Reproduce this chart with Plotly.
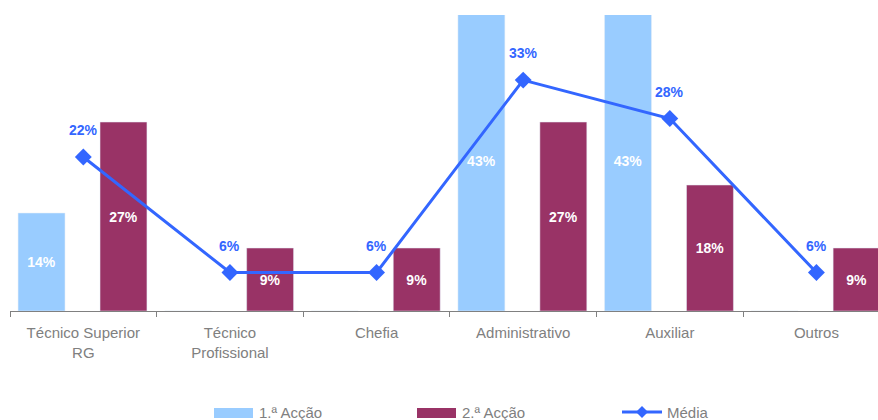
import plotly.graph_objects as go

categories = ["Técnico Superior<br>RG", "Técnico<br>Profissional", "Chefia",
              "Administrativo", "Auxiliar", "Outros"]
acao1 = [14, 0, 0, 43, 43, 0]
acao2 = [27, 9, 9, 27, 18, 9]
media = [22, 5.5, 5.5, 33, 27.5, 5.5]
media_labels = ["22%", "6%", "6%", "33%", "28%", "6%"]
series_names = ["1.ª Acção", "2.ª Acção", "Média"]

C1 = "#99CCFF"
C2 = "#993366"
CL = "#3366FF"
GREY = "#808080"
FONT = "Arial, Liberation Sans, sans-serif"

def lbl(vals):
    return [f"{v}%" if v else "" for v in vals]

fig = go.Figure()
fig.add_trace(go.Bar(x=categories, y=acao1, name=series_names[0], marker_color=C1,
                     width=0.32, offset=-0.445, text=lbl(acao1),
                     textposition="inside", insidetextanchor="middle",
                     textfont=dict(color="white", size=14, family=FONT, weight="bold"),
                     showlegend=False, hoverinfo="skip"))
fig.add_trace(go.Bar(x=categories, y=acao2, name=series_names[1], marker_color=C2,
                     width=0.32, offset=0.114, text=lbl(acao2),
                     textposition="inside", insidetextanchor="middle",
                     textfont=dict(color="white", size=14, family=FONT, weight="bold"),
                     showlegend=False, hoverinfo="skip"))
fig.add_trace(go.Scatter(x=categories, y=media, name=series_names[2], mode="lines+markers",
                         line=dict(color=CL, width=3),
                         marker=dict(symbol="diamond", size=13, color=CL),
                         showlegend=False, hoverinfo="skip"))

for c, v, t in zip(categories, media, media_labels):
    fig.add_annotation(x=c, y=v, text=t, showarrow=False, yshift=27,
                       font=dict(color=CL, size=14, family=FONT, weight="bold"))

# custom legend
def px2paper_x(px):
    return (px - 10) / 868.0

def py2paper_y(py):
    return (311 - py) / 296.0

legend_items = [(214, C1, "bar"), (417, C2, "bar"), (622, CL, "line")]
for (x0, col, kind), name in zip(legend_items, series_names):
    if kind == "bar":
        fig.add_shape(type="rect", xref="paper", yref="paper",
                      x0=px2paper_x(x0), x1=px2paper_x(x0 + 39),
                      y0=py2paper_y(418), y1=py2paper_y(408),
                      fillcolor=col, line_width=0)
    else:
        fig.add_shape(type="line", xref="paper", yref="paper",
                      x0=px2paper_x(x0), x1=px2paper_x(x0 + 40),
                      y0=py2paper_y(412), y1=py2paper_y(412),
                      line=dict(color=col, width=3))
        fig.add_shape(type="path", xref="paper", yref="paper",
                      path=(f"M {px2paper_x(x0+14)} {py2paper_y(412)} "
                            f"L {px2paper_x(x0+20)} {py2paper_y(406)} "
                            f"L {px2paper_x(x0+26)} {py2paper_y(412)} "
                            f"L {px2paper_x(x0+20)} {py2paper_y(418)} Z"),
                      fillcolor=col, line_width=0)
    fig.add_annotation(xref="paper", yref="paper", x=px2paper_x(x0 + 43),
                       y=py2paper_y(412), text=name, showarrow=False,
                       xanchor="left", yanchor="middle",
                       font=dict(color=GREY, size=15, family=FONT))

fig.update_layout(
    width=878, height=420,
    margin=dict(l=10, r=0, t=15, b=109),
    paper_bgcolor="white", plot_bgcolor="white",
    barmode="overlay", hovermode=False,
    font=dict(family=FONT, color=GREY, size=15),
)
fig.update_xaxes(type="category", range=[-0.5, 5.42], showline=True, linecolor=GREY,
                 linewidth=1, ticks="outside", tickson="boundaries", ticklen=5,
                 tickcolor=GREY, showgrid=False, zeroline=False,
                 ticklabelstandoff=8,
                 tickfont=dict(color=GREY, size=15, family=FONT))
fig.update_yaxes(range=[0, 42.3], visible=False, showgrid=False, zeroline=False)

fig.write_html("out.html", config={"displayModeBar": False},
               post_script="document.body.style.margin='0';document.body.style.overflow='hidden';")
